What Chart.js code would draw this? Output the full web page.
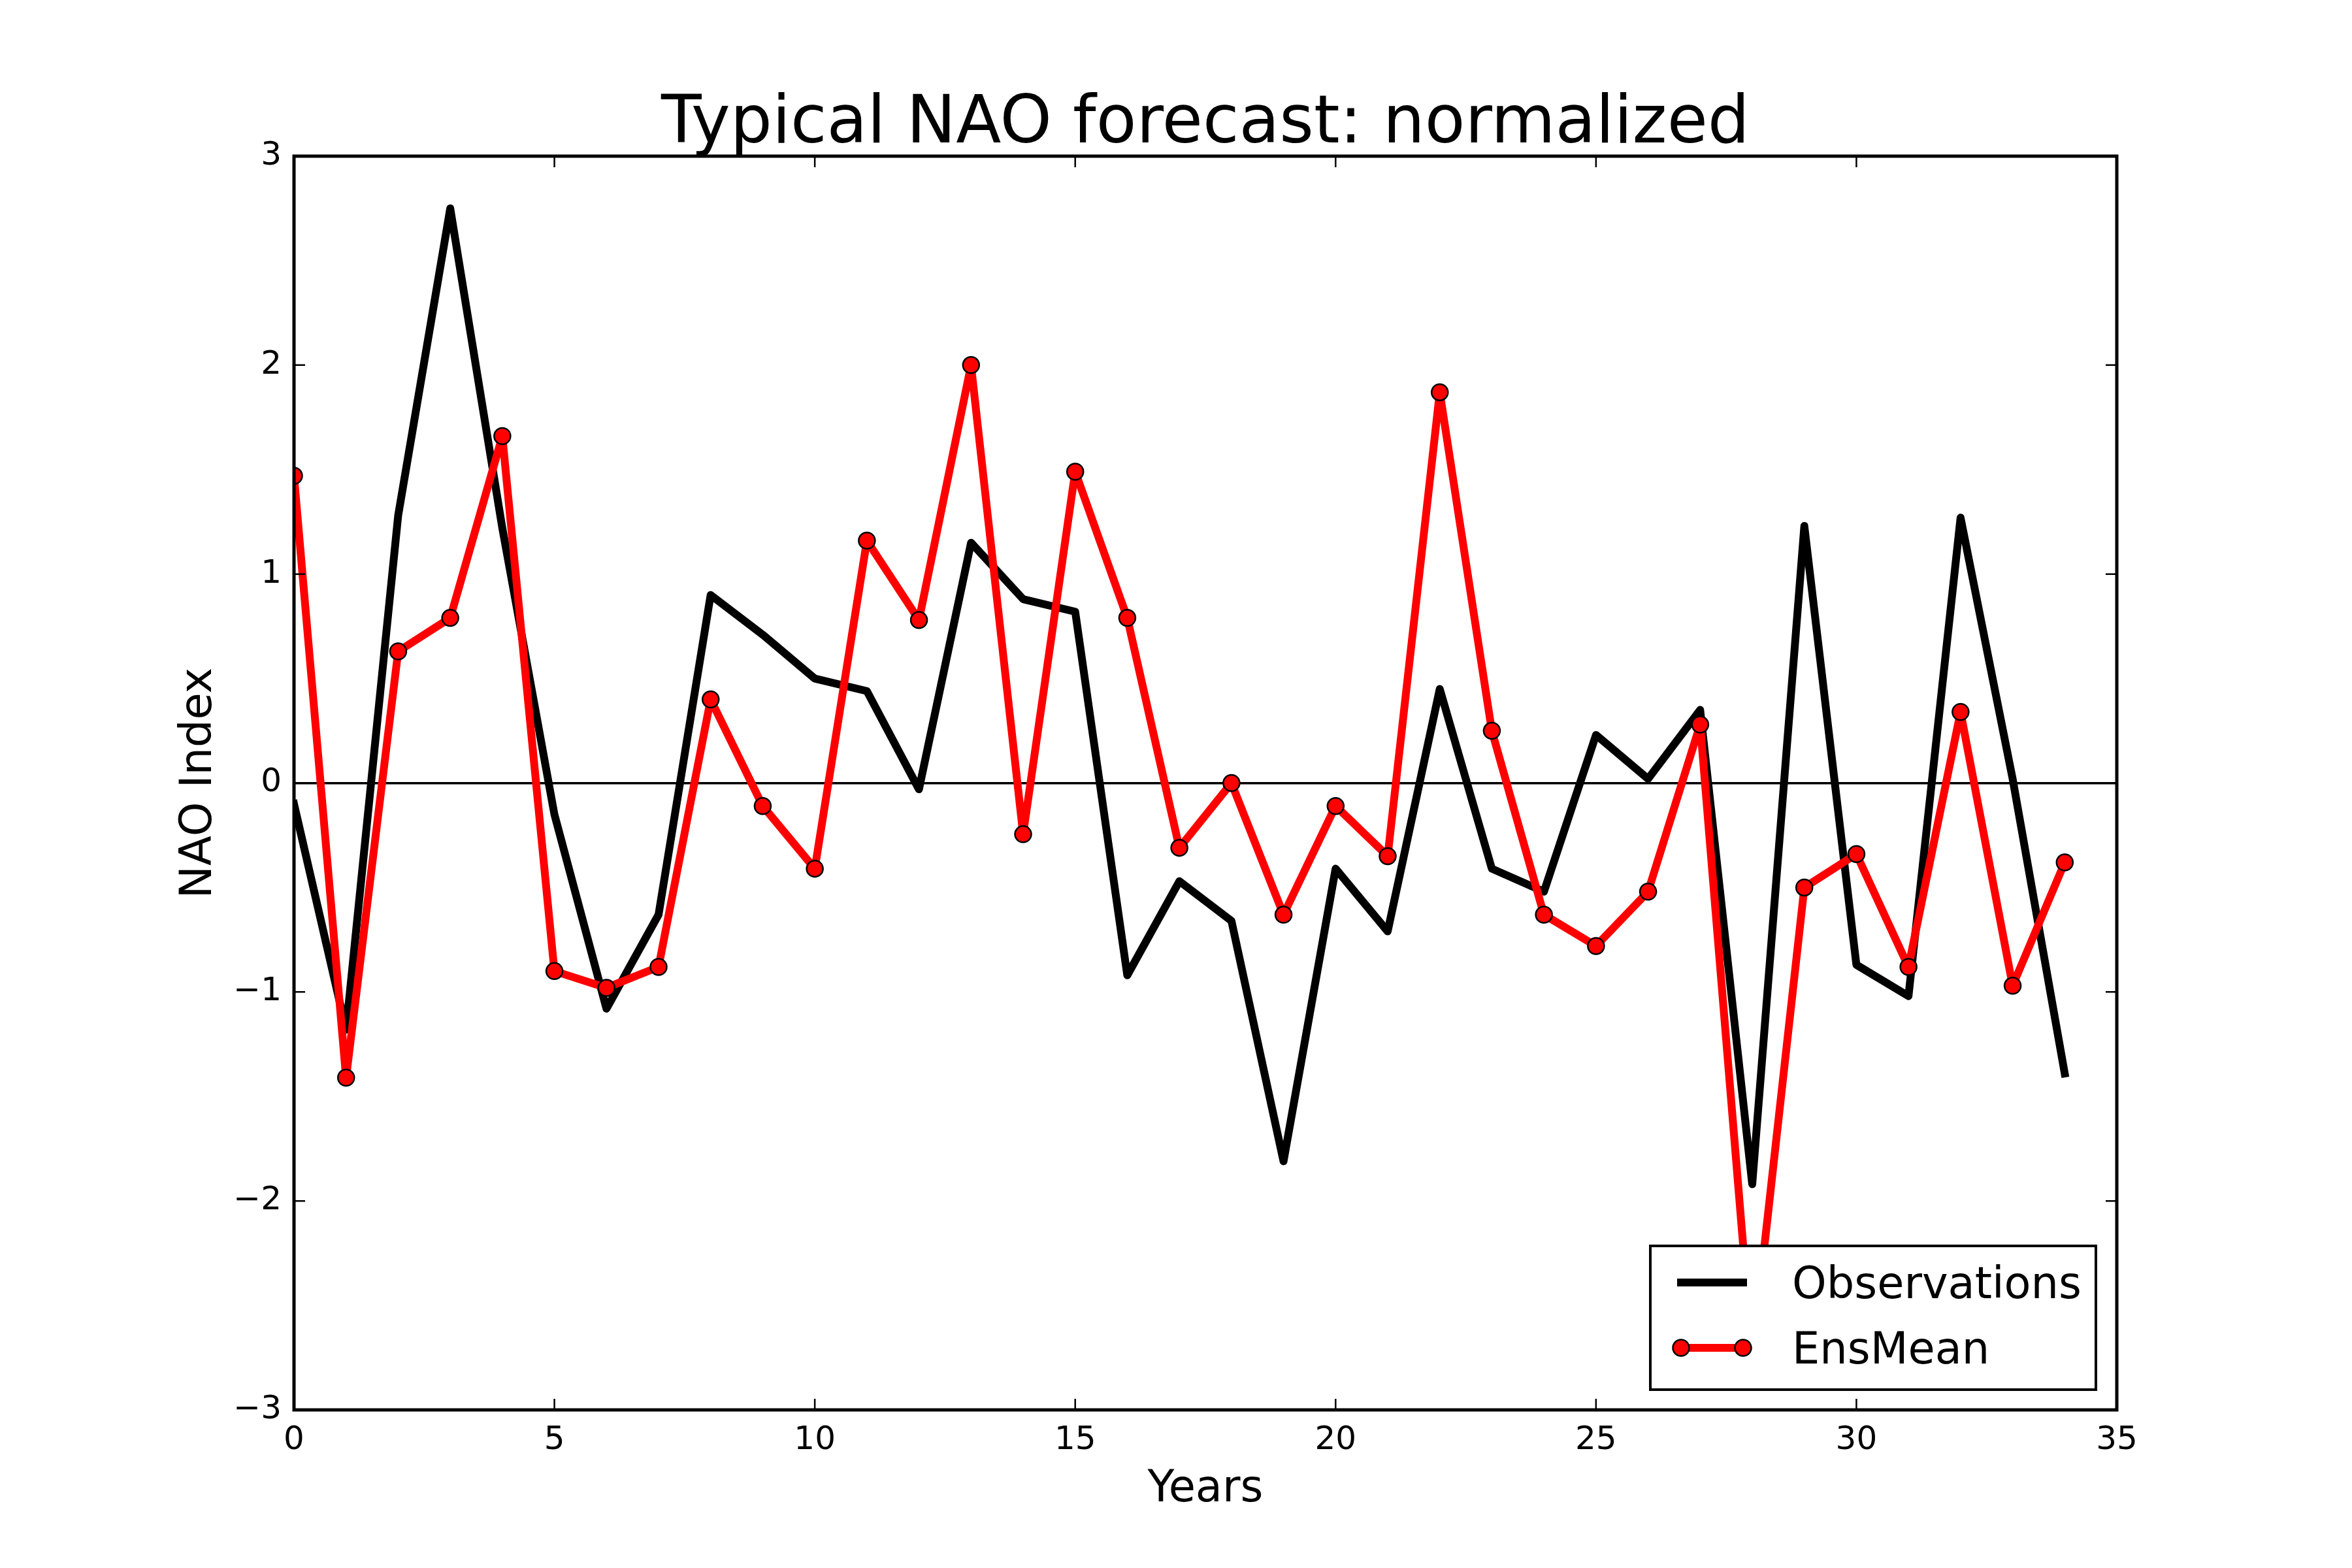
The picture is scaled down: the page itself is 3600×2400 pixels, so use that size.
<!DOCTYPE html>
<html>
<head>
<meta charset="utf-8">
<script src="https://cdn.jsdelivr.net/npm/chart.js@4.4.1/dist/chart.umd.min.js"></script>
<style>
  html, body { margin: 0; padding: 0; background: #ffffff; }
  #c { display: block; }
</style>
</head>
<body>
<canvas id="c" width="3600" height="2400" style="width:3600px;height:2400px"></canvas>
<script>
// ---------------- data ----------------
const years = [0,1,2,3,4,5,6,7,8,9,10,11,12,13,14,15,16,17,18,19,20,21,22,23,24,25,26,27,28,29,30,31,32,33,34];
const observations = [-0.10,-1.18,1.28,2.75,1.22,-0.15,-1.08,-0.63,0.90,0.71,0.50,0.44,-0.03,1.15,0.88,0.82,-0.92,-0.47,-0.66,-1.81,-0.41,-0.71,0.45,-0.41,-0.52,0.23,0.02,0.35,-1.92,1.23,-0.87,-1.02,1.27,0.02,-1.39];
const ensMean = [1.47,-1.41,0.63,0.79,1.66,-0.90,-0.98,-0.88,0.40,-0.11,-0.41,1.16,0.78,2.00,-0.245,1.49,0.79,-0.31,0.00,-0.63,-0.11,-0.35,1.87,0.25,-0.63,-0.78,-0.52,0.28,-2.74,-0.50,-0.34,-0.88,0.34,-0.97,-0.38];
const xTicks = [0,5,10,15,20,25,30,35];
const yTicks = [-3,-2,-1,0,1,2,3];
const seriesNames = ['Observations','EnsMean'];
const chartTitle = 'Typical NAO forecast: normalized';
const xLabel = 'Years';
const yLabel = 'NAO Index';

// ---------------- style ----------------
const FONT = "'DejaVu Sans', 'Liberation Sans', sans-serif";

const decorPlugin = {
  id: 'decor',
  afterDraw(chart) {
    const ctx = chart.ctx;
    const a = chart.chartArea;
    const xs = chart.scales.x, ys = chart.scales.y;
    ctx.save();
    // inward ticks on all four sides
    ctx.strokeStyle = '#000';
    ctx.lineWidth = 2.5;
    const tl = 17;
    ctx.beginPath();
    xs.ticks.forEach(t => {
      const px = xs.getPixelForValue(t.value);
      ctx.moveTo(px, a.bottom); ctx.lineTo(px, a.bottom - tl);
      ctx.moveTo(px, a.top); ctx.lineTo(px, a.top + tl);
    });
    ys.ticks.forEach(t => {
      const py = ys.getPixelForValue(t.value);
      ctx.moveTo(a.left, py); ctx.lineTo(a.left + tl, py);
      ctx.moveTo(a.right, py); ctx.lineTo(a.right - tl, py);
    });
    ctx.stroke();
    // frame
    ctx.lineWidth = 5;
    ctx.strokeRect(a.left, a.top, a.right - a.left, a.bottom - a.top);

    // title and axis labels
    ctx.fillStyle = '#000';
    ctx.textBaseline = 'alphabetic';
    ctx.textAlign = 'center';
    const cx = (a.left + a.right) / 2;
    ctx.font = `101px ${FONT}`;
    ctx.fillText(chartTitle, cx, 218);
    ctx.font = `67px ${FONT}`;
    ctx.fillText(xLabel, cx, 2298);
    ctx.save();
    ctx.translate(323, (a.top + a.bottom) / 2);
    ctx.rotate(-Math.PI / 2);
    ctx.fillText(yLabel, 0, 0);
    ctx.restore();

    // legend (lower right, inside axes)
    const bx = 2526, by = 1907, bw = 682, bh = 220;
    ctx.fillStyle = '#fff';
    ctx.fillRect(bx, by, bw, bh);
    ctx.lineWidth = 4;
    ctx.strokeStyle = '#000';
    ctx.strokeRect(bx, by, bw, bh);
    const rows = [1963, 2063];
    chart.data.datasets.forEach((ds, i) => {
      const y = rows[i];
      const x0 = 2573, x1 = 2668;
      ctx.strokeStyle = ds.borderColor;
      ctx.lineWidth = ds.borderWidth;
      ctx.lineCap = 'square';
      ctx.beginPath();
      ctx.moveTo(x0, y); ctx.lineTo(x1, y);
      ctx.stroke();
      if (ds.pointRadius > 0) {
        [x0, x1].forEach(px => {
          ctx.beginPath();
          ctx.arc(px, y, ds.pointRadius, 0, Math.PI * 2);
          ctx.fillStyle = ds.pointBackgroundColor;
          ctx.fill();
          ctx.lineWidth = ds.pointBorderWidth;
          ctx.strokeStyle = ds.pointBorderColor;
          ctx.stroke();
        });
      }
      ctx.fillStyle = '#000';
      ctx.textAlign = 'left';
      ctx.font = `67px ${FONT}`;
      ctx.fillText(ds.label, 2743, y + 24);
    });
    ctx.restore();
  }
};

const toPoints = arr => years.map((x, i) => ({ x: x, y: arr[i] }));

new Chart(document.getElementById('c').getContext('2d'), {
  type: 'line',
  data: {
    datasets: [
      {
        label: seriesNames[0],
        data: toPoints(observations),
        borderColor: '#000000',
        backgroundColor: '#000000',
        borderWidth: 12,
        pointRadius: 0,
        pointHoverRadius: 0,
        tension: 0,
        fill: false,
        borderJoinStyle: 'round',
        borderCapStyle: 'square',
        clip: 0,
        order: 1
      },
      {
        label: seriesNames[1],
        data: toPoints(ensMean),
        borderColor: '#ff0000',
        backgroundColor: '#ff0000',
        borderWidth: 12,
        pointRadius: 12.5,
        pointHoverRadius: 12.5,
        pointBackgroundColor: '#ff0000',
        pointBorderColor: '#000000',
        pointBorderWidth: 2.5,
        tension: 0,
        fill: false,
        borderJoinStyle: 'round',
        borderCapStyle: 'square',
        clip: 0,
        order: 0
      }
    ]
  },
  options: {
    responsive: false,
    animation: false,
    devicePixelRatio: 1,
    events: [],
    layout: { padding: { left: 0, right: 360, top: 239, bottom: 0 } },
    plugins: {
      legend: { display: false },
      tooltip: { enabled: false },
      title: { display: false }
    },
    scales: {
      x: {
        type: 'linear',
        min: 0,
        max: 35,
        afterBuildTicks: s => { s.ticks = xTicks.map(v => ({ value: v })); },
        afterFit: s => { s.height = 242; },
        grid: { display: false, drawTicks: false },
        border: { display: false },
        ticks: {
          color: '#000',
          font: { family: FONT, size: 50 },
          padding: 17,
          maxRotation: 0,
          autoSkip: false
        }
      },
      y: {
        type: 'linear',
        min: -3,
        max: 3,
        afterBuildTicks: s => { s.ticks = yTicks.map(v => ({ value: v })); },
        afterFit: s => { s.width = 450; },
        grid: {
          drawTicks: false,
          color: c => (c.tick && c.tick.value === 0) ? '#000000' : 'rgba(0,0,0,0)',
          lineWidth: 3.5
        },
        border: { display: false },
        ticks: {
          color: '#000',
          font: { family: FONT, size: 50 },
          padding: 19,
          autoSkip: false,
          callback: v => v < 0 ? '\u2212' + Math.abs(v) : String(v)
        }
      }
    }
  },
  plugins: [decorPlugin]
});
</script>
</body>
</html>
